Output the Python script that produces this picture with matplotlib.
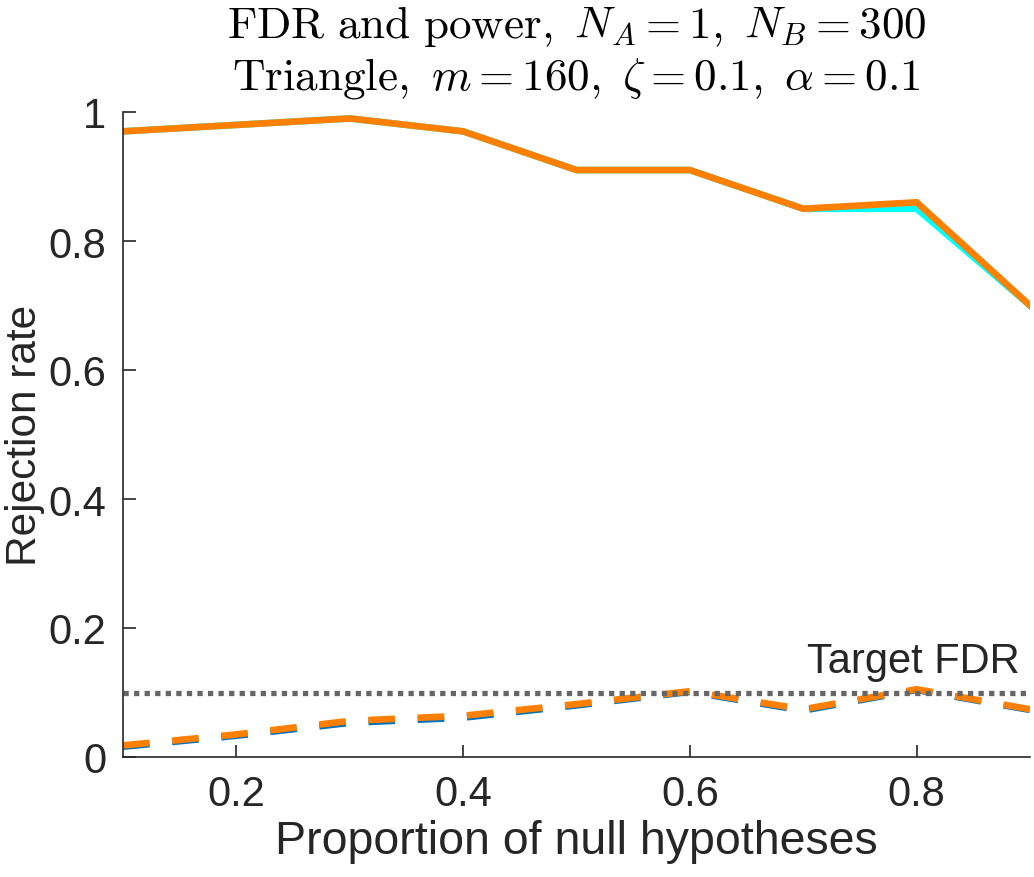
import matplotlib
matplotlib.use("Agg")
import matplotlib.pyplot as plt

plt.rcParams['font.family'] = ['Liberation Sans', 'DejaVu Sans']
plt.rcParams['mathtext.fontset'] = 'cm'

# proportion of null hypotheses
pi0 = [0.1, 0.2, 0.3, 0.4, 0.5, 0.6, 0.7, 0.8, 0.9]

# power curves (orange drawn on top of cyan)
power_cyan = [0.97, 0.98, 0.99, 0.97, 0.91, 0.91, 0.85, 0.85, 0.70]
power_orange = [0.97, 0.98, 0.99, 0.97, 0.91, 0.91, 0.85, 0.86, 0.70]

# FDR curves (orange drawn on top of blue)
fdr_blue = [0.016, 0.033, 0.053, 0.061, 0.080, 0.101, 0.072, 0.104, 0.073]
fdr_orange = [0.018, 0.035, 0.056, 0.064, 0.082, 0.102, 0.074, 0.105, 0.074]

target_fdr = 0.1

fig = plt.figure(figsize=(10.34, 8.78), dpi=100)
ax = fig.add_axes([123 / 1034, 1 - 758 / 878, 907 / 1034, 645 / 878])

ax.plot(pi0, power_cyan, color='#00FFFF', lw=4.8, solid_joinstyle='miter')
ax.plot(pi0, power_orange, color='#FF8000', lw=4.8, solid_joinstyle='miter')
ax.plot(pi0, fdr_blue, color='#0072BD', lw=4.8, ls=(0, (4, 3.4)))
ax.plot(pi0, fdr_orange, color='#FF8000', lw=4.8, ls=(0, (4, 3.4)))
ax.axhline(target_fdr, color='#666666', lw=3.8, ls=(0, (1, 1)))
ax.text(0.891, target_fdr + 0.018, 'Target FDR', ha='right', va='bottom',
        fontsize=30, color='#262626')

ax.set_xlim(0.1, 0.9)
ax.set_ylim(0, 1)
ax.set_xticks([0.2, 0.4, 0.6, 0.8])
ax.set_yticks([0, 0.2, 0.4, 0.6, 0.8, 1])
ax.set_yticklabels(['0', '0.2', '0.4', '0.6', '0.8', '1'])
ax.tick_params(direction='in', length=9, width=1.2, labelsize=30,
               colors='#262626', pad=12)
for s in ['top', 'right']:
    ax.spines[s].set_visible(False)
for s in ['left', 'bottom']:
    ax.spines[s].set_color('#262626')
    ax.spines[s].set_linewidth(1.2)

ax.set_xlabel('Proportion of null hypotheses', fontsize=33.5, color='#262626', labelpad=4)
ax.set_ylabel('Rejection rate', fontsize=30.5, color='#262626')
ax.yaxis.set_label_coords(-0.086, 0.5)

title = (r'$\mathrm{FDR\ and\ power,}\ N_A=1,\ N_B=300$' + '\n'
         + r'$\mathrm{Triangle,}\ m=160,\ \zeta=0.1,\ \alpha=0.1$')
ax.set_title(title, fontsize=32.5, color='black', pad=17, linespacing=1.22)

fig.savefig('out.png', dpi=100)
